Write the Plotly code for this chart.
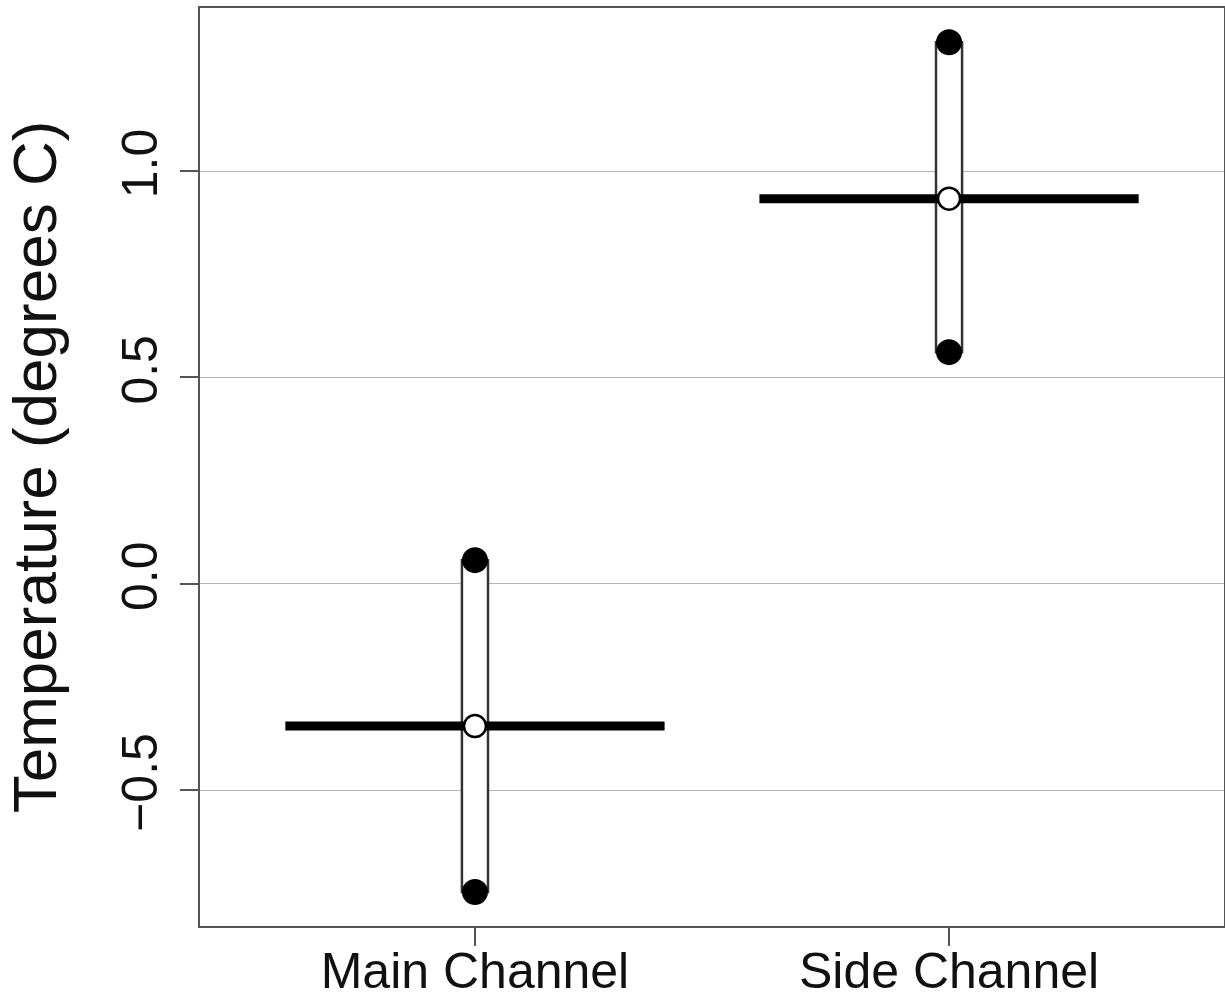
import plotly.graph_objects as go

# Channel temperature summaries: mean with lower/upper interval bounds
channels = ["Main Channel", "Side Channel"]
positions = [1, 2]
means = [-0.345, 0.933]
lower = [-0.747, 0.561]
upper = [0.057, 1.312]

y_ticks = [-0.5, 0.0, 0.5, 1.0]
y_tick_labels = ["\u22120.5", "0.0", "0.5", "1.0"]

HALF_WIDTH = 0.4      # half-length of the horizontal mean bar (x units)
BAR_WIDTH = 0.055     # width of the interval column (x units)
FONT = "Liberation Sans, Arial, Helvetica, sans-serif"

fig = go.Figure()

# Thick horizontal mean bars
for p, m in zip(positions, means):
    fig.add_trace(go.Scatter(
        x=[p - HALF_WIDTH, p + HALF_WIDTH], y=[m, m],
        mode="lines", line=dict(color="black", width=9),
        hoverinfo="skip", showlegend=False,
    ))

# Interval columns (white with dark outline)
fig.add_trace(go.Bar(
    x=positions,
    y=[u - l for u, l in zip(upper, lower)],
    base=lower,
    width=BAR_WIDTH,
    marker=dict(color="white", line=dict(color="#333333", width=2.5)),
    showlegend=False,
))

# Interval end points
fig.add_trace(go.Scatter(
    x=positions + positions, y=lower + upper,
    mode="markers",
    marker=dict(size=26, color="black", line=dict(width=0)),
    showlegend=False,
))

# Mean points
fig.add_trace(go.Scatter(
    x=positions, y=means,
    mode="markers",
    marker=dict(size=22, color="white", line=dict(color="black", width=2.5)),
    showlegend=False,
))

fig.update_layout(
    width=1225, height=1002,
    margin=dict(l=200, r=1, t=8, b=76),
    paper_bgcolor="white", plot_bgcolor="white",
    barmode="overlay",
    font=dict(family=FONT, color="black"),
    xaxis=dict(
        range=[0.42, 2.58],
        tickvals=positions, ticktext=channels,
        tickfont=dict(size=50, family=FONT, color="#111111"),
        ticks="outside", ticklen=18, tickwidth=2, tickcolor="#555555",
        ticklabelstandoff=-18,
        showgrid=False, zeroline=False,
        showline=True, linecolor="#555555", linewidth=2, mirror=True,
        automargin=False,
        fixedrange=True,
    ),
    yaxis=dict(
        range=[-0.8295, 1.395],
        tickvals=y_ticks, ticktext=y_tick_labels, tickangle=-90,
        tickfont=dict(size=50, family=FONT, color="#111111"),
        ticks="outside", ticklen=18, tickwidth=2, tickcolor="#555555",
        ticklabelstandoff=3,
        showgrid=True, gridcolor="#b5b5b5", gridwidth=1.2,
        zeroline=False,
        showline=True, linecolor="#555555", linewidth=2, mirror=True,
        title=dict(text="Temperature (degrees C)",
                   font=dict(size=62, family=FONT, color="#111111"),
                   standoff=36),
        automargin=False,
        fixedrange=True,
    ),
)

fig.write_html("out.html")
